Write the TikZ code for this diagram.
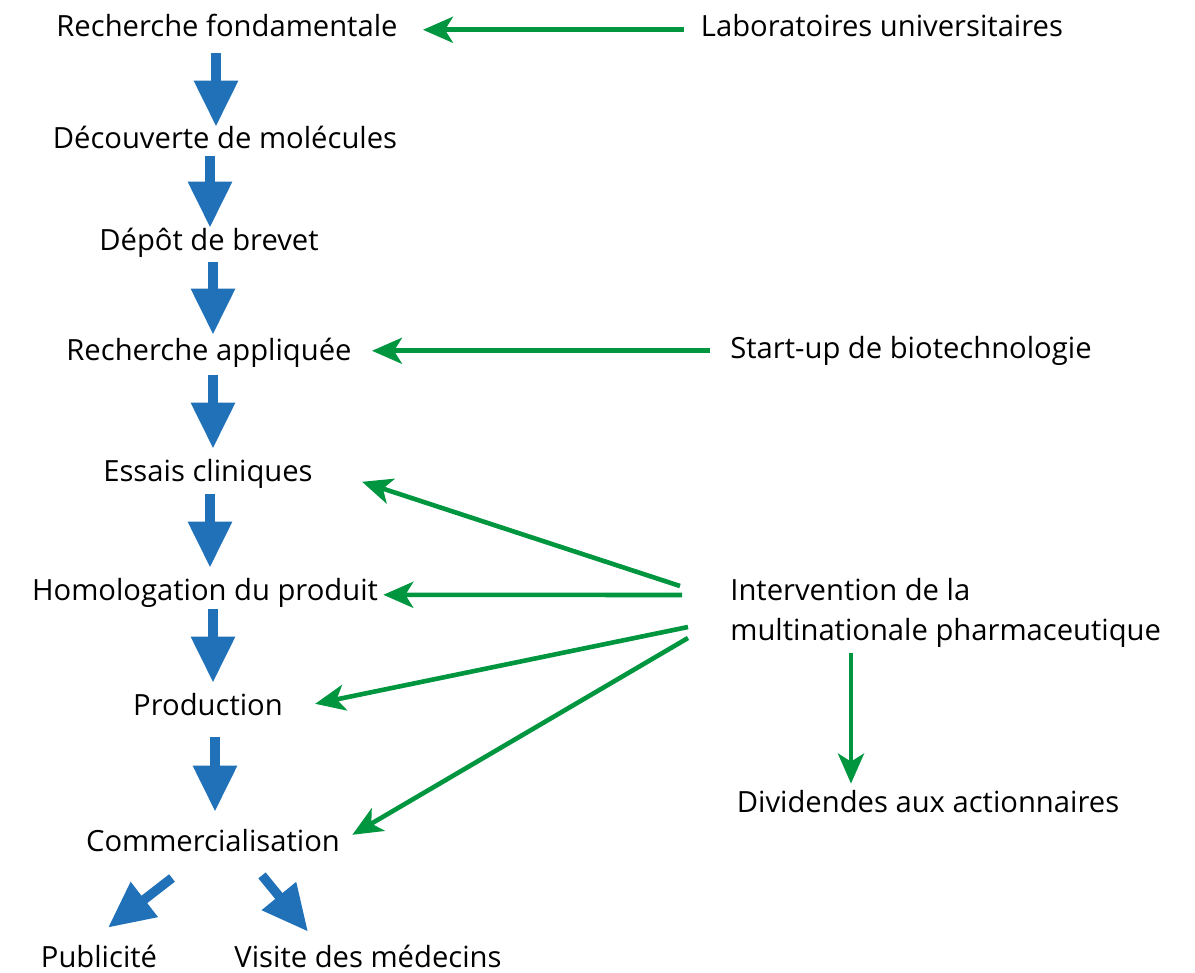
\documentclass[tikz,border=0pt]{standalone}
\usepackage{fontspec}
\setmainfont{Open Sans}
\usepackage{tikz}
\usetikzlibrary{arrows.meta, positioning, calc}
\definecolor{flowblue}{RGB}{33,113,185}
\definecolor{actorgreen}{RGB}{0,150,64}

\begin{document}
\begin{tikzpicture}[
    x=0.5pt, y=-0.5pt,
    every node/.style={font=\fontsize{14.6}{20}\selectfont, inner sep=0pt},
    stage/.style={anchor=base, text height=10.5pt, text depth=3.3pt},
    flow/.style={-{Triangle[length=23pt, width=21pt]}, line width=4.7pt,
                 color=flowblue},
    link/.style={-{Stealth[length=15pt, width=13pt, inset=4pt]},
                 line width=2.3pt, color=actorgreen}
]
\useasboundingbox (0,0) rectangle (1195,973);

% --- Chaine de valeur ---
\node[stage] (rf) at (227,37)  {Recherche fondamentale};
\node[stage] (dm) at (225,149) {Découverte de molécules};
\node[stage] (db) at (209,251) {Dépôt de brevet};
\node[stage] (ra) at (209,361) {Recherche appliquée};
\node[stage] (ec) at (208,481) {Essais cliniques};
\node[stage] (hp) at (205,600) {Homologation du produit};
\node[stage] (pr) at (208,715) {Production};
\node[stage] (co) at (213,851) {Commercialisation};
\node[stage] (pu) at (99,967)  {Publicité};
\node[stage] (vm) at (368,967) {Visite des médecins};

% --- Acteurs ---
\node[stage] (lab) at (882,37)  {Laboratoires universitaires};
\node[stage] (su)  at (911,358) {Start-up de biotechnologie};
\node[anchor=north west, align=left] (int) at (730,578)
    {Intervention de la\\multinationale pharmaceutique};
\node[stage] (dd)  at (928,812) {Dividendes aux actionnaires};

% --- Fleches bleues ---
\foreach \a/\b/\x/\s/\e in {rf/dm/216/4.7/0.5, dm/db/210/0/1, db/ra/213/2.2/2.5,
                            ra/ec/213/3.7/5.5, ec/hp/210/3.2/5.5, hp/pr/213/1.2/5.5,
                            pr/co/215/7.7/9}
    \draw[flow, shorten <=\s pt, shorten >=\e pt] (\x,0 |- \a.south) -- (\x,0 |- \b.north);

\draw[flow]
    ([xshift=-20.5pt,yshift=-10pt]co.south) -- ([xshift=4.5pt,yshift=9pt]pu.north);
\draw[flow]
    ([xshift=24.5pt,yshift=-8.7pt]co.south) -- ([xshift=-30pt,yshift=7pt]vm.north);

% --- Fleches vertes ---
\draw[link, shorten <=8.5pt, shorten >=12.5pt] (lab.west) -- (lab.west -| rf.east);
\draw[link, shorten <=10pt, shorten >=10pt] (su.west) -- (su.west -| ra.east);

\coordinate (i1) at (680,586);
\coordinate (i2) at (682,595);
\coordinate (i3) at (688,627);
\coordinate (i4) at (688,638);
\draw[link] (i1) -- ([xshift=24.5pt,yshift=-4pt]ec.east);
\draw[link] (i2) -- ([xshift=2.5pt,yshift=-1pt]hp.east);
\draw[link] (i3) -- ([xshift=16pt,yshift=2pt]pr.east);
\draw[link] (i4) -- ([xshift=6pt,yshift=4.5pt]co.east);

\draw[link, shorten <=2.5pt, shorten >=3.5pt] (851,0 |- int.south) -- (851,0 |- dd.north);
\end{tikzpicture}
\end{document}
